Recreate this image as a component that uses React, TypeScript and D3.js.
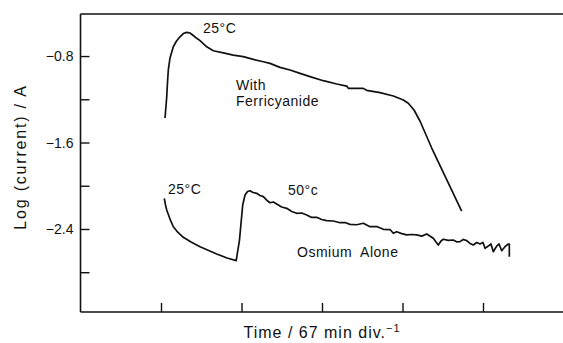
import { useEffect, useRef } from 'react'
import * as d3 from 'd3'

// time in chart divisions (1 div = 67 min), log(current / A)
const ferriTime = [1.050, 1.060, 1.071, 1.081, 1.091, 1.112, 1.153, 1.193, 1.236, 1.277, 1.319, 1.360, 1.401, 1.444, 1.485, 1.568, 1.650, 1.774, 1.898, 2.022, 2.147, 2.271, 2.354, 2.478, 2.603, 2.727, 2.851, 3.016, 3.183, 3.307, 3.327, 3.513, 3.555, 3.721, 3.886, 4.010, 4.072, 4.143, 4.217, 4.363, 4.735]
const ferriLog = [-1.373, -1.281, -1.179, -1.040, -0.929, -0.818, -0.714, -0.661, -0.622, -0.592, -0.581, -0.587, -0.610, -0.636, -0.657, -0.714, -0.751, -0.770, -0.791, -0.806, -0.831, -0.853, -0.868, -0.905, -0.929, -0.960, -0.990, -1.028, -1.059, -1.078, -1.099, -1.099, -1.117, -1.139, -1.170, -1.207, -1.237, -1.299, -1.401, -1.651, -2.234]

const osmTime = [1.041, 1.056, 1.071, 1.112, 1.153, 1.211, 1.277, 1.373, 1.485, 1.692, 1.820, 1.934, 1.975, 2.015, 2.044, 2.075, 2.106, 2.143, 2.189, 2.230, 2.271, 2.317, 2.354, 2.395, 2.437, 2.499, 2.562, 2.624, 2.686, 2.748, 2.810, 2.872, 2.934, 2.996, 3.058, 3.140, 3.224, 3.286, 3.348, 3.431, 3.513, 3.596, 3.680, 3.762, 3.845, 3.886, 3.928, 3.990, 4.052, 4.114, 4.176, 4.239, 4.301, 4.383, 4.416, 4.445, 4.478, 4.507, 4.569, 4.631, 4.677, 4.714, 4.755, 4.798, 4.839, 4.880, 4.922, 4.963, 5.000, 5.025, 5.066, 5.099, 5.128, 5.170, 5.199, 5.232, 5.273, 5.314, 5.327, 5.327]
const osmLog = [-2.116, -2.178, -2.224, -2.308, -2.379, -2.432, -2.477, -2.520, -2.564, -2.631, -2.668, -2.693, -2.502, -2.178, -2.086, -2.053, -2.046, -2.062, -2.070, -2.090, -2.101, -2.136, -2.157, -2.150, -2.169, -2.197, -2.209, -2.238, -2.255, -2.252, -2.270, -2.293, -2.292, -2.312, -2.323, -2.326, -2.342, -2.340, -2.357, -2.361, -2.347, -2.379, -2.377, -2.403, -2.405, -2.440, -2.425, -2.443, -2.455, -2.451, -2.455, -2.466, -2.446, -2.486, -2.520, -2.548, -2.511, -2.495, -2.506, -2.502, -2.520, -2.517, -2.497, -2.508, -2.534, -2.548, -2.525, -2.539, -2.525, -2.579, -2.558, -2.539, -2.610, -2.558, -2.539, -2.601, -2.564, -2.539, -2.539, -2.656]

const yTicks = [-0.8, -1.2, -1.6, -2.0, -2.4, -2.8]
const yLabelled = [-0.8, -1.6, -2.4]
const xTicks = [1, 2, 3, 4, 5]

const FONT = '"Liberation Sans", Arial, Helvetica, sans-serif'

const App = () => {
  const ref = useRef<SVGSVGElement>(null)

  useEffect(() => {
    const width = 563
    const height = 343
    const svg = d3.select(ref.current)
    svg.selectAll('*').remove()
    svg.attr('width', width).attr('height', height)

    const x = d3.scaleLinear().domain([0, 6]).range([80.5, 563.5])
    const y = d3.scaleLinear().domain([-3.168, -0.411]).range([312, 14])

    const left = x(0)
    const top = y(-0.411)
    const bottom = y(-3.168)

    // frame: left, top and bottom (the right edge is cut off)
    const frame = svg.append('g').attr('stroke', '#111').attr('stroke-width', 1.6).attr('fill', 'none')
    frame.append('line').attr('x1', left).attr('x2', left).attr('y1', top).attr('y2', bottom)
    frame.append('line').attr('x1', left).attr('x2', width).attr('y1', top).attr('y2', top)
    frame.append('line').attr('x1', left).attr('x2', width).attr('y1', bottom).attr('y2', bottom)

    const yAxis = svg.append('g')
      .attr('transform', `translate(${left},0)`)
      .call(d3.axisLeft(y).tickValues(yTicks).tickSize(-9).tickPadding(7)
        .tickFormat(d => yLabelled.some(v => Math.abs(v - +d) < 1e-6) ? d3.format('.1f')(+d).replace('-', '\u2212') : ''))
    yAxis.select('.domain').remove()
    yAxis.selectAll('line').attr('stroke', '#111').attr('stroke-width', 1.4)
    yAxis.selectAll('text').attr('font-family', FONT).attr('font-size', 14).attr('fill', '#111')

    const xAxis = svg.append('g')
      .attr('transform', `translate(0,${bottom})`)
      .call(d3.axisBottom(x).tickValues(xTicks).tickSize(-9).tickFormat(() => ''))
    xAxis.select('.domain').remove()
    xAxis.selectAll('line').attr('stroke', '#111').attr('stroke-width', 1.4)

    const line = d3.line<[number, number]>()
      .x(d => x(d[0]))
      .y(d => y(d[1]))

    const ferri = ferriTime.map((t, i) => [t, ferriLog[i]] as [number, number])
    const osm = osmTime.map((t, i) => [t, osmLog[i]] as [number, number])

    svg.append('path').datum(ferri).attr('d', line)
      .attr('fill', 'none').attr('stroke', '#111').attr('stroke-width', 1.7).attr('stroke-linejoin', 'round')
    svg.append('path').datum(osm).attr('d', line)
      .attr('fill', 'none').attr('stroke', '#111').attr('stroke-width', 1.7).attr('stroke-linejoin', 'round')

    const notes: [string, number, number][] = [
      ['25\u00b0C', 203, 33],
      ['With', 236, 90],
      ['Ferricyanide', 236, 106],
      ['25\u00b0C', 168, 194],
      ['50\u00b0c', 288, 195],
      ['Osmium  Alone', 297, 257],
    ]
    svg.append('g').selectAll('text').data(notes).join('text')
      .attr('x', d => d[1]).attr('y', d => d[2])
      .attr('font-family', FONT).attr('font-size', 14).attr('letter-spacing', 0.5)
      .attr('fill', '#111').attr('xml:space', 'preserve').style('white-space', 'pre')
      .text(d => d[0])

    const xl = svg.append('text')
      .attr('x', 322).attr('y', 338).attr('text-anchor', 'middle')
      .attr('font-family', FONT).attr('font-size', 16).attr('letter-spacing', 1).attr('fill', '#111')
    xl.append('tspan').text('Time / 67 min div.')
    xl.append('tspan').attr('dy', -6).attr('font-size', 11).text('\u22121')

    svg.append('text')
      .attr('transform', 'translate(20,157) rotate(-90)')
      .attr('text-anchor', 'middle').attr('dominant-baseline', 'central')
      .attr('font-family', FONT).attr('font-size', 16).attr('letter-spacing', 1.8).attr('fill', '#111')
      .text('Log (current) / A')
  }, [])

  return <svg ref={ref} style={{ position: 'absolute', left: 0, top: 0, background: '#fff' }}></svg>
}

export default App
